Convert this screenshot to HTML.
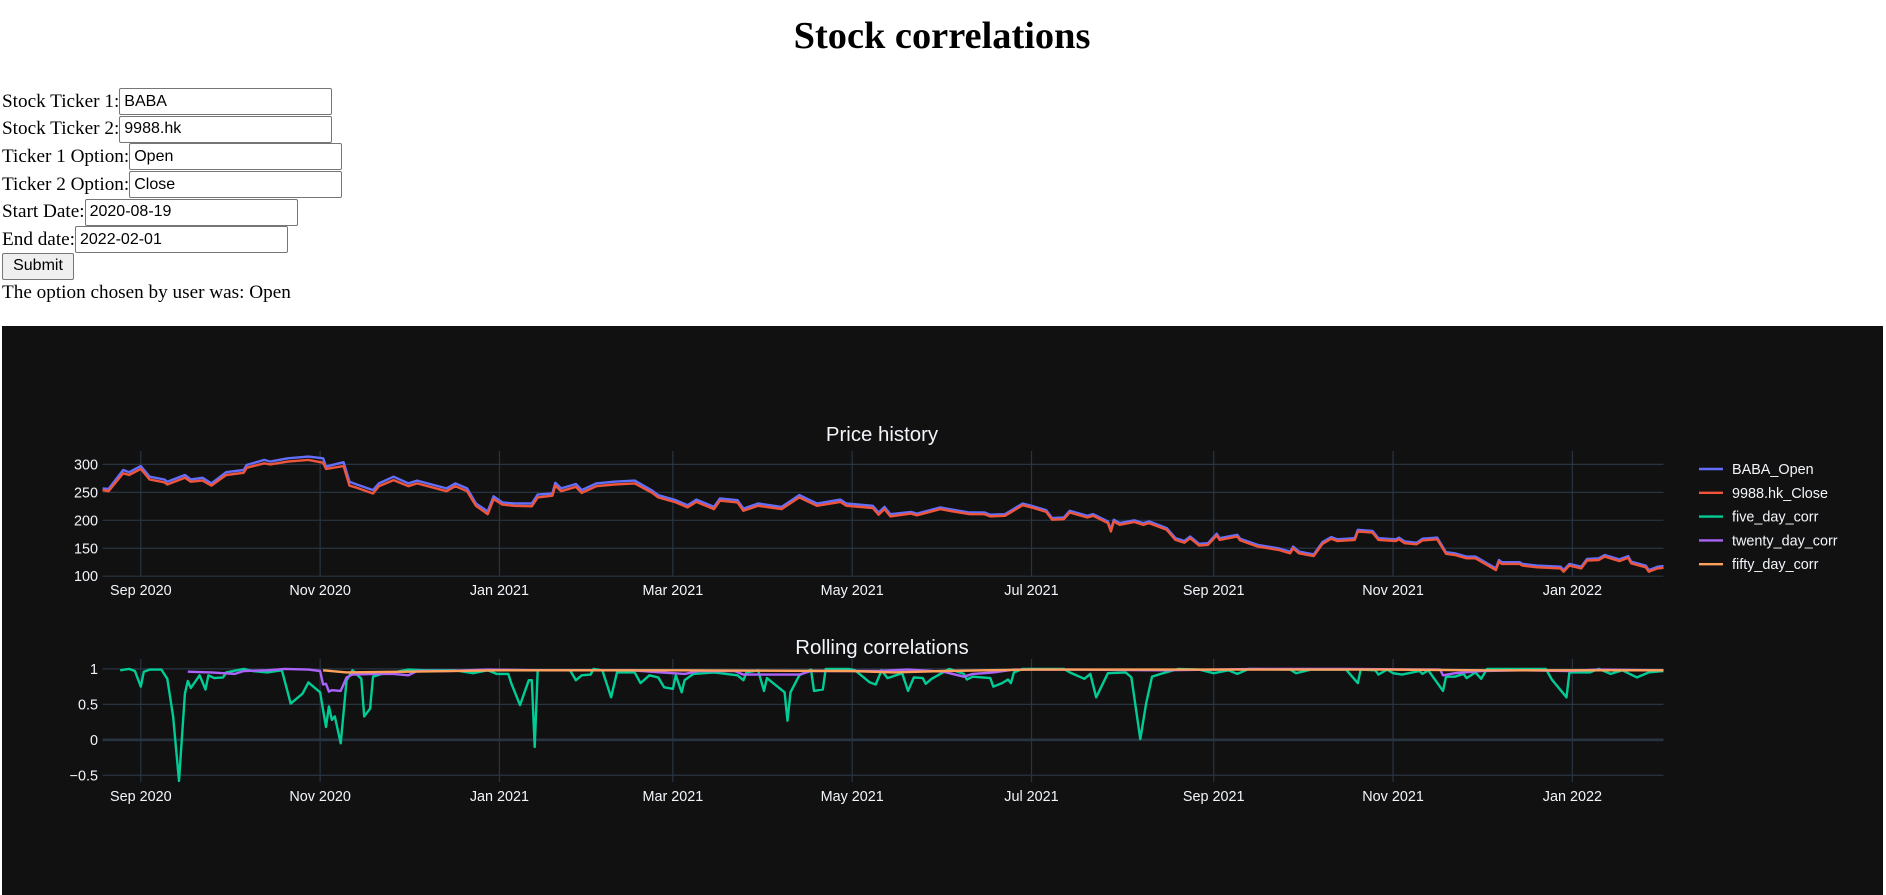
<!DOCTYPE html>
<html><head><meta charset="utf-8">
<style>
html,body{margin:0;padding:0;background:#fff;width:1886px;height:895px;overflow:hidden;position:relative}
.t{position:absolute;font-family:"Liberation Serif",serif;font-size:19.2px;color:#000;white-space:nowrap}
.row{position:absolute;left:2px;height:27px;display:flex;align-items:center;font-family:"Liberation Serif",serif;font-size:19.2px}
.row input{width:213px;height:27px;box-sizing:border-box;border:1.2px solid #767676;border-radius:2px;font-family:"Liberation Sans",sans-serif;font-size:16px;padding:1px 4px;margin:0;color:#000}
#chart{position:absolute;left:2px;top:326px;width:1881px;height:569px;background:#111111}
svg text{font-family:"Liberation Sans","DejaVu Sans",sans-serif;fill:#f2f5fa}
</style></head><body>
<div class="t" style="left:0;width:1884px;text-align:center;top:14px;font-size:38.4px;font-weight:bold;line-height:44px">Stock correlations</div>
<div class="row" style="top:88px"><span>Stock Ticker 1:</span><input value="BABA"></div>
<div class="row" style="top:115.5px"><span>Stock Ticker 2:</span><input value="9988.hk"></div>
<div class="row" style="top:143px"><span>Ticker 1 Option:</span><input value="Open"></div>
<div class="row" style="top:171px"><span>Ticker 2 Option:</span><input value="Close"></div>
<div class="row" style="top:198.5px"><span>Start Date:</span><input value="2020-08-19"></div>
<div class="row" style="top:226px"><span>End date:</span><input value="2022-02-01"></div>
<button style="position:absolute;left:2px;top:252.5px;width:72px;height:27.5px;font-family:'Liberation Sans',sans-serif;font-size:16px;border:1.2px solid #767676;border-radius:2px;background:#efefef;padding:0">Submit</button>
<div class="t" style="left:2px;top:281px;line-height:24px">The option chosen by user was: Open</div>
<div id="chart">
<svg id="svg" width="1881" height="569" viewBox="2 326 1881 569" xmlns="http://www.w3.org/2000/svg"></svg>
</div>
<script>
const priceDates=["2020-08-19","2020-08-21","2020-08-26","2020-08-28","2020-09-01","2020-09-04","2020-09-09","2020-09-10","2020-09-16","2020-09-18","2020-09-22","2020-09-25","2020-09-30","2020-10-06","2020-10-07","2020-10-13","2020-10-15","2020-10-21","2020-10-28","2020-11-02","2020-11-03","2020-11-09","2020-11-11","2020-11-13","2020-11-19","2020-11-21","2020-11-26","2020-12-01","2020-12-04","2020-12-14","2020-12-17","2020-12-21","2020-12-24","2020-12-28","2020-12-30","2021-01-02","2021-01-06","2021-01-12","2021-01-14","2021-01-19","2021-01-20","2021-01-22","2021-01-27","2021-01-29","2021-02-03","2021-02-09","2021-02-16","2021-02-22","2021-02-24","2021-03-02","2021-03-06","2021-03-09","2021-03-15","2021-03-17","2021-03-23","2021-03-25","2021-03-30","2021-04-07","2021-04-13","2021-04-19","2021-04-27","2021-04-29","2021-05-08","2021-05-10","2021-05-12","2021-05-14","2021-05-21","2021-05-23","2021-05-31","2021-06-03","2021-06-10","2021-06-15","2021-06-17","2021-06-22","2021-06-28","2021-07-01","2021-07-06","2021-07-08","2021-07-12","2021-07-14","2021-07-20","2021-07-22","2021-07-27","2021-07-28","2021-07-29","2021-07-31","2021-08-05","2021-08-08","2021-08-10","2021-08-16","2021-08-19","2021-08-22","2021-08-24","2021-08-27","2021-08-30","2021-09-02","2021-09-03","2021-09-09","2021-09-10","2021-09-16","2021-09-23","2021-09-27","2021-09-28","2021-09-30","2021-10-05","2021-10-08","2021-10-11","2021-10-13","2021-10-19","2021-10-20","2021-10-25","2021-10-27","2021-11-02","2021-11-03","2021-11-05","2021-11-09","2021-11-11","2021-11-16","2021-11-19","2021-11-22","2021-11-26","2021-11-29","2021-12-04","2021-12-06","2021-12-07","2021-12-08","2021-12-14","2021-12-15","2021-12-20","2021-12-28","2021-12-29","2021-12-31","2022-01-04","2022-01-06","2022-01-10","2022-01-12","2022-01-17","2022-01-20","2022-01-21","2022-01-26","2022-01-27","2022-01-30","2022-02-01"];
const babaOpen=[257,256,290,286,297,278,273,269,281,273,276,266,286,290,299,308,305,311,314,311,296,304,269,265,254,266,278,266,271,257,266,257,230,216,243,232,230,230,246,248,267,257,265,254,266,269,271,253,245,236,227,237,224,239,236,221,230,224,245,230,237,230,226,214,224,211,215,212,223,220,214,214,210,211,230,226,218,204,205,217,208,211,198,183,201,195,200,195,198,186,168,163,171,158,159,176,168,174,167,156,150,144,153,144,139,161,170,166,168,183,181,168,166,169,162,160,167,169,143,141,135,135,120,114,129,125,125,122,119,117,111,122,117,131,132,138,130,136,126,119,111,117,118];
const hkClose=[254,252,284,281,292,273,268,264,276,269,271,262,281,285,294,302,300,305,308,303,292,297,262,259,248,261,272,261,266,252,261,252,226,211,238,228,226,225,241,244,262,252,260,249,261,264,266,249,241,232,223,233,220,235,232,217,226,220,241,226,233,226,222,210,220,207,212,209,220,217,211,211,207,208,227,223,215,201,202,214,205,208,195,180,198,192,197,192,195,183,165,160,168,155,156,173,165,171,164,153,147,141,150,141,136,158,167,163,165,180,178,165,163,166,159,157,164,166,140,138,132,132,117,111,126,122,122,119,116,114,108,119,114,128,129,135,127,133,123,116,108,114,115];
const fiveDates=["2020-08-25","2020-08-28","2020-08-30","2020-09-01","2020-09-02","2020-09-04","2020-09-08","2020-09-10","2020-09-12","2020-09-14","2020-09-16","2020-09-17","2020-09-18","2020-09-21","2020-09-23","2020-09-24","2020-09-26","2020-09-29","2020-09-30","2020-10-06","2020-10-09","2020-10-14","2020-10-19","2020-10-22","2020-10-26","2020-10-28","2020-11-01","2020-11-03","2020-11-04","2020-11-05","2020-11-06","2020-11-08","2020-11-10","2020-11-12","2020-11-15","2020-11-16","2020-11-18","2020-11-19","2020-11-22","2020-11-26","2020-12-01","2020-12-07","2020-12-17","2020-12-23","2020-12-28","2020-12-31","2021-01-04","2021-01-05","2021-01-08","2021-01-11","2021-01-12","2021-01-13","2021-01-14","2021-01-25","2021-01-27","2021-01-29","2021-02-01","2021-02-02","2021-02-05","2021-02-08","2021-02-10","2021-02-16","2021-02-18","2021-02-21","2021-02-24","2021-02-26","2021-03-01","2021-03-02","2021-03-04","2021-03-05","2021-03-08","2021-03-15","2021-03-23","2021-03-25","2021-03-26","2021-03-30","2021-04-01","2021-04-02","2021-04-08","2021-04-09","2021-04-10","2021-04-13","2021-04-17","2021-04-18","2021-04-21","2021-04-22","2021-04-30","2021-05-02","2021-05-07","2021-05-09","2021-05-11","2021-05-13","2021-05-18","2021-05-20","2021-05-22","2021-05-25","2021-05-26","2021-05-28","2021-06-03","2021-06-08","2021-06-09","2021-06-11","2021-06-17","2021-06-18","2021-06-21","2021-06-23","2021-06-24","2021-06-25","2021-06-28","2021-07-12","2021-07-14","2021-07-19","2021-07-21","2021-07-23","2021-07-27","2021-08-02","2021-08-04","2021-08-07","2021-08-09","2021-08-11","2021-08-14","2021-08-20","2021-08-27","2021-09-01","2021-09-06","2021-09-09","2021-09-13","2021-09-27","2021-09-29","2021-10-04","2021-10-16","2021-10-20","2021-10-21","2021-10-26","2021-10-27","2021-10-30","2021-11-01","2021-11-04","2021-11-10","2021-11-11","2021-11-13","2021-11-18","2021-11-19","2021-11-22","2021-11-25","2021-11-26","2021-11-29","2021-12-01","2021-12-03","2021-12-23","2021-12-25","2021-12-30","2021-12-31","2022-01-07","2022-01-10","2022-01-14","2022-01-18","2022-01-23","2022-01-27","2022-02-01"];
const fiveCorr=[0.98,1.0,0.97,0.75,0.96,0.99,0.99,0.86,0.33,-0.58,0.65,0.83,0.73,0.91,0.71,0.91,0.87,0.88,0.95,1.0,0.97,0.95,0.98,0.51,0.65,0.81,0.67,0.18,0.47,0.28,0.33,-0.05,0.84,0.98,0.86,0.33,0.44,0.89,0.93,0.95,0.99,0.98,0.98,0.94,0.98,0.93,0.93,0.80,0.49,0.84,0.84,-0.1,0.98,0.98,0.84,0.91,0.92,1.0,0.98,0.60,0.95,0.95,0.80,0.91,0.88,0.74,0.72,0.91,0.67,0.84,0.93,0.95,0.91,0.84,0.95,0.98,0.69,0.87,0.67,0.27,0.67,0.91,0.99,0.69,0.71,1.0,1.0,0.98,0.81,0.78,0.98,0.87,0.94,0.69,0.88,0.87,0.79,0.86,1.0,0.93,0.85,0.89,0.87,0.75,0.80,0.85,0.80,0.95,1.0,1.0,0.95,0.86,0.93,0.60,0.94,0.95,0.88,0.01,0.51,0.89,0.93,1.0,0.99,0.94,0.98,0.93,1.0,0.99,0.94,0.99,0.99,0.80,0.99,0.98,0.92,0.99,0.94,0.92,0.97,0.93,0.98,0.69,0.89,0.89,0.93,0.87,0.95,0.86,1.0,1.0,0.85,0.60,0.95,0.95,1.0,0.93,0.98,0.88,0.95,0.97];
const twentyDates=["2020-09-17","2020-09-25","2020-10-03","2020-10-06","2020-10-14","2020-10-20","2020-10-28","2020-11-01","2020-11-02","2020-11-03","2020-11-04","2020-11-05","2020-11-08","2020-11-10","2020-11-12","2020-11-20","2020-11-26","2020-12-01","2020-12-04","2020-12-14","2020-12-28","2021-01-15","2021-02-15","2021-02-25","2021-03-05","2021-03-10","2021-03-22","2021-03-25","2021-04-01","2021-04-13","2021-04-17","2021-04-30","2021-05-10","2021-05-20","2021-06-01","2021-06-08","2021-06-11","2021-06-18","2021-06-25","2021-07-15","2021-08-15","2021-09-15","2021-10-15","2021-11-17","2021-11-18","2021-11-22","2021-12-01","2021-12-15","2021-12-31","2022-01-10","2022-02-01"];
const twentyCorr=[0.96,0.95,0.93,0.97,0.98,1.0,0.99,0.97,0.78,0.79,0.68,0.70,0.69,0.88,0.92,0.93,0.93,0.91,0.97,0.97,0.99,0.98,0.98,0.95,0.93,0.97,0.97,0.92,0.92,0.92,0.97,0.97,0.97,0.99,0.96,0.89,0.93,0.95,0.99,0.99,0.98,1.0,1.0,0.99,0.91,0.94,0.97,0.98,0.97,0.99,0.98];
const fiftyDates=["2020-11-02","2020-11-10","2020-12-01","2021-01-01","2021-03-01","2021-05-01","2021-05-15","2021-06-01","2021-07-01","2021-09-01","2021-11-01","2021-12-01","2022-02-01"];
const fiftyCorr=[0.98,0.95,0.96,0.98,0.98,0.97,0.95,0.97,0.99,0.99,0.99,0.98,0.98];
const xTickDates=["2020-09-01","2020-11-01","2021-01-01","2021-03-01","2021-05-01","2021-07-01","2021-09-01","2021-11-01","2022-01-01"];
const xTickLabels=["Sep 2020","Nov 2020","Jan 2021","Mar 2021","May 2021","Jul 2021","Sep 2021","Nov 2021","Jan 2022"];
const priceTicks=[100,150,200,250,300];
const corrTicks=[-0.5,0,0.5,1];
const corrTickLabels=["\u22120.5","0","0.5","1"];
const legendNames=["BABA_Open","9988.hk_Close","five_day_corr","twenty_day_corr","fifty_day_corr"];
const colors=["#636efa","#EF553B","#00cc96","#ab63fa","#FFA15A"];

const NS="http://www.w3.org/2000/svg";
const svg=document.getElementById('svg');
const X0=102.6,X1=1663.5,D0=Date.UTC(2020,7,19),D1=Date.UTC(2022,1,1);
function xs(d){const t=Date.parse(d+"T00:00:00Z");return X0+(t-D0)/(D1-D0)*(X1-X0);}
function yPrice(v){return 576.2-(v-100)*0.559;}
function yCorr(v){return 739.8-v*70.9;}
function mk(tag,attrs,parent){const e=document.createElementNS(NS,tag);for(const k in attrs)e.setAttribute(k,attrs[k]);(parent||svg).appendChild(e);return e;}
function panel(name,top,bottom,ticks,labels,yf,title,titleY,zero){
  const g=mk('g',{});
  
  
  xTickDates.forEach((d,i)=>{
    const x=xs(d);
    const l=mk('line',{x1:x,x2:x,y1:top,y2:bottom,stroke:'#283442','stroke-width':1.2},g);
    
    
    const t=mk('text',{x:x,y:bottom+19,'text-anchor':'middle','font-size':'14.4px'},g);
    
    
    t.textContent=xTickLabels[i];
  });
  ticks.forEach((v,i)=>{
    const y=yf(v);
    const l=mk('line',{x1:X0,x2:X1,y1:y,y2:y,stroke:'#283442','stroke-width':(zero&&v===0)?2.6:1.2},g);
    
    
    const t=mk('text',{x:98,y:y+5,'text-anchor':'end','font-size':'14.4px'},g);
    
    
    t.textContent=labels[i];
  });
  const tt=mk('text',{x:882,y:titleY,'text-anchor':'middle','font-size':'20.4px'},g);
  
  
  tt.textContent=title;
}
panel('price',451,576.2,priceTicks,priceTicks.map(String),yPrice,'Price history',441,false);
panel('corr',659,782,corrTicks,corrTickLabels,yCorr,'Rolling correlations',654,true);
function series(name,dates,vals,yf,color){
  const p=mk('polyline',{points:dates.map((d,i)=>xs(d).toFixed(1)+','+yf(vals[i]).toFixed(1)).join(' '),fill:'none',stroke:color,'stroke-width':2.4,'stroke-linejoin':'round'});
  
  
}
series('baba-open',priceDates,babaOpen,yPrice,colors[0]);
series('hk-close',priceDates,hkClose,yPrice,colors[1]);
series('five-day-corr',fiveDates,fiveCorr,yCorr,colors[2]);
series('twenty-day-corr',twentyDates,twentyCorr,yCorr,colors[3]);
series('fifty-day-corr',fiftyDates,fiftyCorr,yCorr,colors[4]);
const lg=mk('g',{});


legendNames.forEach((n,i)=>{
  const y=469+i*23.8;
  const e=mk('g',{},lg);
  
  
  mk('line',{x1:1699,x2:1723,y1:y,y2:y,stroke:colors[i],'stroke-width':2.4},e);
  const t=mk('text',{x:1732,y:y+5,'font-size':'14.4px'},e);
  t.textContent=n;
});
</script>
</body></html>
